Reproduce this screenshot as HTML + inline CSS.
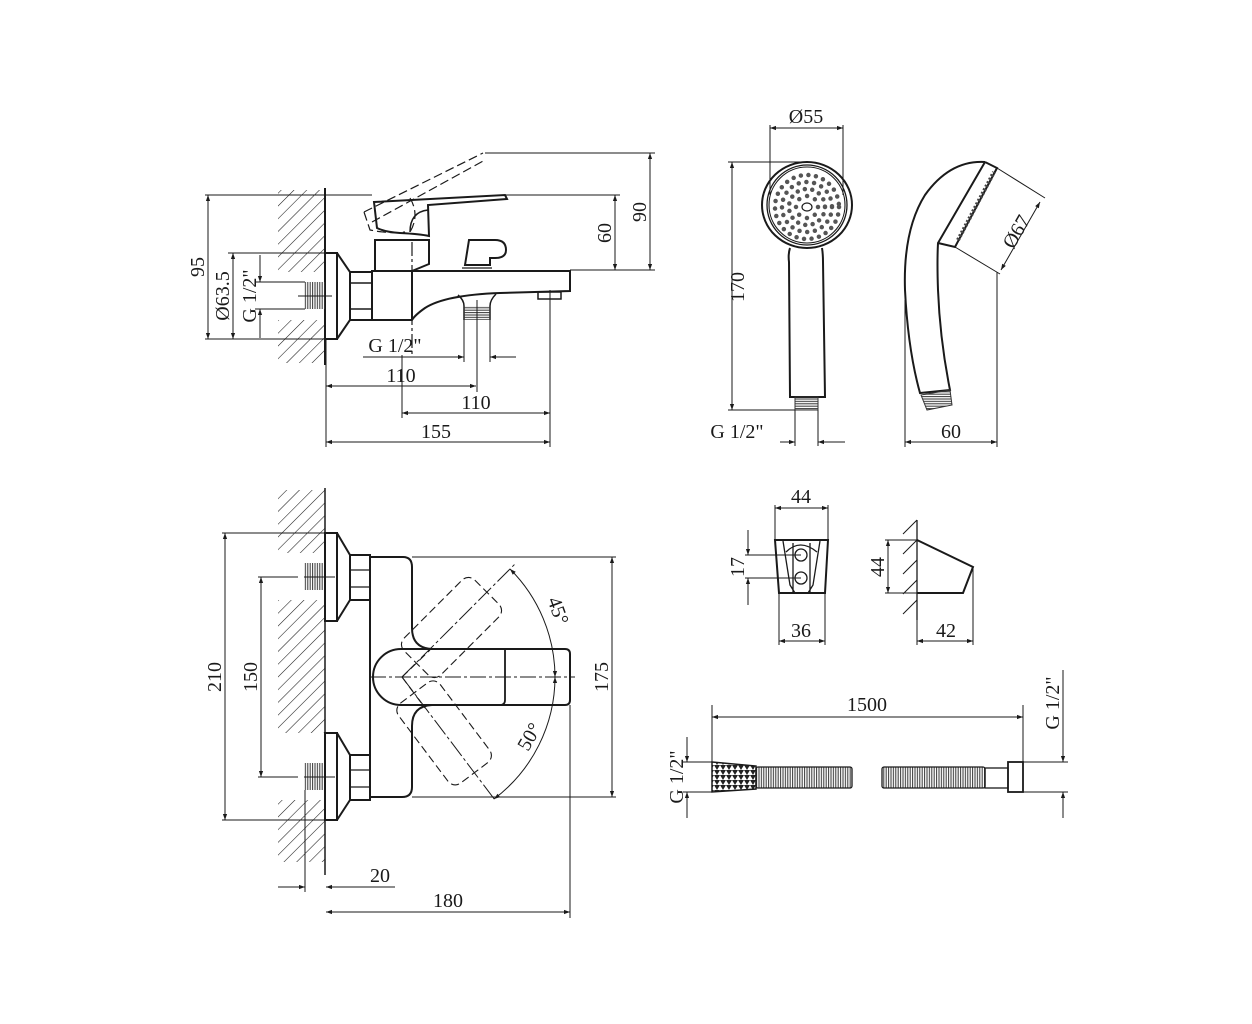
<!DOCTYPE html>
<html><head><meta charset="utf-8"><style>html,body{margin:0;padding:0;background:#fff}svg{display:block}</style></head>
<body>
<svg width="1252" height="1024" viewBox="0 0 1252 1024" xmlns="http://www.w3.org/2000/svg" font-family="Liberation Serif, serif" font-size="20" fill="none" stroke="#1a1a1a">
<defs>
<marker id="a" viewBox="0 0 10 10" refX="10" refY="5" markerWidth="9" markerHeight="6" orient="auto-start-reverse" markerUnits="userSpaceOnUse"><path d="M0,1.5 L10,5 L0,8.5 Z" fill="#1a1a1a" stroke="none"/></marker>
<pattern id="h" width="9" height="9" patternUnits="userSpaceOnUse" patternTransform="rotate(45)"><line x1="0" y1="0" x2="0" y2="9" stroke="#1a1a1a" stroke-width="1.1"/></pattern>
<pattern id="th" width="2.4" height="4" patternUnits="userSpaceOnUse"><line x1="0.6" y1="0" x2="0.6" y2="4" stroke="#333" stroke-width="1"/></pattern>
<pattern id="tv" width="4" height="2.4" patternUnits="userSpaceOnUse"><line x1="0" y1="0.6" x2="4" y2="0.6" stroke="#333" stroke-width="1"/></pattern>
<pattern id="tri" width="6" height="5" patternUnits="userSpaceOnUse"><path d="M0,0 L3,5 L6,0 Z" fill="#222" stroke="none"/></pattern>
</defs>

<!-- ========== TOP LEFT: side view ========== -->
<g stroke-width="1.1">
<rect x="278" y="190" width="47" height="82" fill="url(#h)" stroke="none"/>
<rect x="278" y="320" width="47" height="43" fill="url(#h)" stroke="none"/>
</g>
<g stroke-width="2">
<line x1="325" y1="188" x2="325" y2="365"/>
<rect x="325" y="253" width="12" height="86"/>
<path d="M337,253 L350,272 L350,320 L337,339"/>
<rect x="350" y="272" width="22" height="48"/>
<line x1="350" y1="283" x2="372" y2="283" stroke-width="1.5"/><line x1="350" y1="309" x2="372" y2="309" stroke-width="1.5"/>
<path d="M372,271 L570,271 L570,291 L500,293 Q445,295 425,308 Q415,315 412,320 L372,320 Z"/>
<line x1="412" y1="271" x2="412" y2="320"/>
<rect x="538" y="292" width="23" height="7" stroke-width="1.5"/>
<path d="M375,270 L375,240 L429,240 L429,264 L412,271"/>
<path d="M374,202 L505,195 L507,199 L428,205 L429,236 Q420,234 400,233 Q385,232 377,228 Z"/>
<path d="M428,210 Q410,212 410,232" stroke-width="1.5"/>
<path d="M465,265 L469,240 L495,240 Q506,240 506,250 Q506,258 495,258 L490,258 L490,265 Z"/>
<line x1="462" y1="268" x2="492" y2="268" stroke-width="1.3"/>
<path d="M458,295 Q464,300 464,306 L464,320 M490,320 L490,306 Q490,300 496,294" stroke-width="1.5"/>
</g>
<rect x="304" y="282" width="21" height="27" fill="url(#th)" stroke="none"/>
<rect x="464" y="306" width="26" height="14" fill="url(#tv)" stroke="none"/>
<!-- dashed lever -->
<g stroke-width="1.2" stroke-dasharray="9,4">
<path d="M364,212 L483,153 M372,222 L485,160 M364,212 L370,230 Q390,234 405,232 M410,198 Q420,215 410,232"/>
</g>
<line x1="412" y1="242" x2="412" y2="355" stroke-width="1.2" stroke-dasharray="14,3,3,3"/>
<line x1="477" y1="300" x2="477" y2="392" stroke-width="1"/>
<!-- dims top -->
<g stroke-width="1">
<line x1="205" y1="195" x2="372" y2="195"/><line x1="205" y1="339" x2="325" y2="339"/>
<line x1="208" y1="195" x2="208" y2="339" marker-start="url(#a)" marker-end="url(#a)"/>
<line x1="228" y1="253" x2="325" y2="253"/>
<line x1="233" y1="253" x2="233" y2="339" marker-start="url(#a)" marker-end="url(#a)"/>
<line x1="255" y1="282" x2="305" y2="282"/><line x1="255" y1="309" x2="305" y2="309"/>
<line x1="260" y1="255" x2="260" y2="282" marker-end="url(#a)"/><line x1="260" y1="338" x2="260" y2="309" marker-end="url(#a)"/>
<line x1="298" y1="296" x2="332" y2="296"/>
<line x1="485" y1="153" x2="655" y2="153"/><line x1="505" y1="195" x2="620" y2="195"/><line x1="570" y1="270" x2="655" y2="270"/>
<line x1="615" y1="195" x2="615" y2="270" marker-start="url(#a)" marker-end="url(#a)"/>
<line x1="650" y1="153" x2="650" y2="270" marker-start="url(#a)" marker-end="url(#a)"/>
<line x1="464" y1="320" x2="464" y2="362"/><line x1="490" y1="320" x2="490" y2="362"/>
<line x1="363" y1="357" x2="464" y2="357" marker-end="url(#a)"/><line x1="516" y1="357" x2="490" y2="357" marker-end="url(#a)"/>
<line x1="326" y1="340" x2="326" y2="447"/>
<line x1="402" y1="355" x2="402" y2="418"/><line x1="550" y1="290" x2="550" y2="447"/>
<line x1="326" y1="386" x2="476" y2="386" marker-start="url(#a)" marker-end="url(#a)"/>
<line x1="402" y1="413" x2="550" y2="413" marker-start="url(#a)" marker-end="url(#a)"/>
<line x1="326" y1="442" x2="550" y2="442" marker-start="url(#a)" marker-end="url(#a)"/>
</g>
<g fill="#1a1a1a" stroke="none">
<text transform="translate(204,267) rotate(-90)" text-anchor="middle">95</text>
<text transform="translate(229,296) rotate(-90)" text-anchor="middle">Ø63.5</text>
<text transform="translate(256,296) rotate(-90)" text-anchor="middle">G 1/2"</text>
<text transform="translate(611,233) rotate(-90)" text-anchor="middle">60</text>
<text transform="translate(646,212) rotate(-90)" text-anchor="middle">90</text>
<text x="395" y="352" text-anchor="middle">G 1/2"</text>
<text x="401" y="382" text-anchor="middle">110</text>
<text x="476" y="409" text-anchor="middle">110</text>
<text x="436" y="438" text-anchor="middle">155</text>
</g>

<!-- ========== HAND SHOWER FRONT ========== -->
<g stroke-width="2">
<ellipse cx="807" cy="205" rx="45" ry="43"/>
<circle cx="807" cy="205" r="40" stroke-width="1.3"/>
<circle cx="807" cy="205" r="38" stroke-width="1.1"/>
<path d="M790,248 Q788,254 789,262 L790,397 L825,397 L823,262 Q823,254 822,248"/>
</g>
<rect x="795" y="397" width="23" height="13" fill="url(#tv)" stroke="#333" stroke-width="1"/>
<g stroke="#555" stroke-linecap="round" stroke-width="4.5">
<circle cx="807" cy="207" r="11" stroke-dasharray="0 8.6"/>
<circle cx="807" cy="207" r="18" stroke-dasharray="0 7.5"/>
<circle cx="807" cy="207" r="25" stroke-dasharray="0 7.8"/>
<circle cx="807" cy="207" r="32" stroke-dasharray="0 7.6"/>
</g>
<ellipse cx="807" cy="207" rx="5" ry="4" stroke-width="1.2"/>
<g stroke-width="1">
<line x1="770" y1="125" x2="770" y2="195"/><line x1="843" y1="125" x2="843" y2="195"/>
<line x1="770" y1="128" x2="843" y2="128" marker-start="url(#a)" marker-end="url(#a)"/>
<line x1="728" y1="162" x2="805" y2="162"/><line x1="728" y1="410" x2="795" y2="410"/>
<line x1="732" y1="162" x2="732" y2="410" marker-start="url(#a)" marker-end="url(#a)"/>
<line x1="795" y1="410" x2="795" y2="446"/><line x1="818" y1="410" x2="818" y2="446"/>
<line x1="780" y1="442" x2="795" y2="442" marker-end="url(#a)"/><line x1="845" y1="442" x2="818" y2="442" marker-end="url(#a)"/>
</g>
<g fill="#1a1a1a" stroke="none">
<text x="806" y="123" text-anchor="middle">Ø55</text>
<text transform="translate(744,287) rotate(-90)" text-anchor="middle">170</text>
<text x="737" y="438" text-anchor="middle">G 1/2"</text>
</g>
<!-- side -->
<g stroke-width="2">
<path d="M985,162 Q950,160 925,195 Q903,230 905,290 Q908,350 920,393 L950,390 Q940,340 938,290 Q937,262 938,243 L985,162"/>
<path d="M938,243 L955,247 L997,168 L985,162"/>
</g>
<path d="M958,240 L994,172" stroke="#444" stroke-width="4" stroke-dasharray="2,2"/>
<path d="M921,395 L950,390 L952,405 L927,410 Z" fill="url(#tv)" stroke="#333" stroke-width="1"/>
<g stroke-width="1">
<line x1="997" y1="168" x2="1045" y2="198"/><line x1="955" y1="247" x2="1000" y2="274"/>
<line x1="1040" y1="202" x2="1001" y2="270" marker-start="url(#a)" marker-end="url(#a)"/>
<line x1="905" y1="300" x2="905" y2="447"/><line x1="997" y1="272" x2="997" y2="447"/>
<line x1="905" y1="442" x2="997" y2="442" marker-start="url(#a)" marker-end="url(#a)"/>
</g>
<g fill="#1a1a1a" stroke="none">
<text transform="translate(1022,235) rotate(-60)" text-anchor="middle">Ø67</text>
<text x="951" y="438" text-anchor="middle">60</text>
</g>

<!-- ========== HOLDER ========== -->
<g stroke-width="2">
<path d="M775,540 L828,540 L825,593 L779,593 Z"/>
</g>
<g stroke-width="1.3">
<path d="M783,541 L790,585 L795,593 M820,541 L813,585 L808,593 M793,543 L793,593 M810,543 L810,593"/>
<path d="M786,552 Q800,538 817,552"/>
<circle cx="801" cy="555" r="6"/><circle cx="801" cy="578" r="6"/>
</g>
<g stroke-width="1">
<line x1="775" y1="505" x2="775" y2="540"/><line x1="828" y1="505" x2="828" y2="540"/>
<line x1="775" y1="508" x2="828" y2="508" marker-start="url(#a)" marker-end="url(#a)"/>
<line x1="745" y1="555" x2="801" y2="555"/><line x1="745" y1="578" x2="801" y2="578"/>
<line x1="748" y1="530" x2="748" y2="555" marker-end="url(#a)"/><line x1="748" y1="605" x2="748" y2="578" marker-end="url(#a)"/>
<line x1="779" y1="593" x2="779" y2="645"/><line x1="825" y1="593" x2="825" y2="645"/>
<line x1="779" y1="641" x2="825" y2="641" marker-start="url(#a)" marker-end="url(#a)"/>
<line x1="885" y1="540" x2="917" y2="540"/><line x1="885" y1="593" x2="917" y2="593"/>
<line x1="888" y1="540" x2="888" y2="593" marker-start="url(#a)" marker-end="url(#a)"/>
<line x1="917" y1="593" x2="917" y2="645"/><line x1="973" y1="567" x2="973" y2="645"/>
<line x1="917" y1="641" x2="973" y2="641" marker-start="url(#a)" marker-end="url(#a)"/>
<path d="M917,520 L903,534 M917,540 L903,554 M917,560 L903,574 M917,580 L903,594 M917,600 L903,614"/>
</g>
<line x1="917" y1="520" x2="917" y2="620" stroke-width="1.3"/>
<path d="M917,540 L973,567 L963,593 L917,593" stroke-width="2"/>
<g fill="#1a1a1a" stroke="none">
<text x="801" y="503" text-anchor="middle">44</text>
<text transform="translate(744,567) rotate(-90)" text-anchor="middle">17</text>
<text x="801" y="637" text-anchor="middle">36</text>
<text transform="translate(884,567) rotate(-90)" text-anchor="middle">44</text>
<text x="946" y="637" text-anchor="middle">42</text>
</g>

<!-- ========== HOSE ========== -->
<path d="M712,762 L756,766 L756,789 L712,792 Z" fill="url(#tri)" stroke="#1a1a1a" stroke-width="1.5"/>
<rect x="756" y="767" width="96" height="21" fill="url(#th)" stroke="#1a1a1a" stroke-width="1.3" rx="2"/>
<rect x="882" y="767" width="103" height="21" fill="url(#th)" stroke="#1a1a1a" stroke-width="1.3" rx="2"/>
<rect x="985" y="768" width="23" height="20" stroke-width="1.3"/>
<rect x="1008" y="762" width="15" height="30" stroke-width="1.8"/>
<g stroke-width="1">
<line x1="712" y1="705" x2="712" y2="762"/><line x1="1023" y1="705" x2="1023" y2="762"/>
<line x1="712" y1="717" x2="1023" y2="717" marker-start="url(#a)" marker-end="url(#a)"/>
<line x1="683" y1="762" x2="712" y2="762"/><line x1="683" y1="792" x2="712" y2="792"/>
<line x1="687" y1="737" x2="687" y2="762" marker-end="url(#a)"/><line x1="687" y1="818" x2="687" y2="792" marker-end="url(#a)"/>
<line x1="1023" y1="762" x2="1068" y2="762"/><line x1="1023" y1="792" x2="1068" y2="792"/>
<line x1="1063" y1="670" x2="1063" y2="762" marker-end="url(#a)"/><line x1="1063" y1="818" x2="1063" y2="792" marker-end="url(#a)"/>
</g>
<g fill="#1a1a1a" stroke="none">
<text x="867" y="711" text-anchor="middle">1500</text>
<text transform="translate(683,777) rotate(-90)" text-anchor="middle">G 1/2"</text>
<text transform="translate(1059,703) rotate(-90)" text-anchor="middle">G 1/2"</text>
</g>

<!-- ========== BOTTOM FRONT VIEW ========== -->
<rect x="278" y="490" width="47" height="63" fill="url(#h)" stroke="none"/>
<rect x="278" y="600" width="47" height="133" fill="url(#h)" stroke="none"/>
<rect x="278" y="800" width="47" height="62" fill="url(#h)" stroke="none"/>
<rect x="304" y="563" width="21" height="27" fill="url(#th)" stroke="none"/>
<rect x="304" y="763" width="21" height="27" fill="url(#th)" stroke="none"/>
<g stroke-width="2">
<line x1="325" y1="488" x2="325" y2="875" stroke-width="1.5"/>
<rect x="325" y="533" width="12" height="88"/><path d="M337,533 L350,555 L350,600 L337,621"/>
<rect x="350" y="555" width="20" height="45"/>
<rect x="325" y="733" width="12" height="87"/><path d="M337,733 L350,755 L350,800 L337,820"/>
<rect x="350" y="755" width="20" height="45"/>
<path d="M370,557 L403,557 Q412,557 412,567 L412,628 Q412,648 432,649 L565,649 Q570,649 570,654 L570,700 Q570,705 565,705 L432,705 Q412,706 412,726 L412,787 Q412,797 402,797 L370,797 Z"/>
<path d="M432,649 L401,649 A28,28 0 0 0 401,705 L432,705"/>
<path d="M505,649 L505,700 Q505,705 500,705" stroke-width="1.8"/>
</g>
<g stroke-width="1.3">
<line x1="350" y1="570" x2="370" y2="570"/><line x1="350" y1="587" x2="370" y2="587"/>
<line x1="350" y1="770" x2="370" y2="770"/><line x1="350" y1="787" x2="370" y2="787"/>
</g>
<line x1="370" y1="677" x2="575" y2="677" stroke-width="1" stroke-dasharray="16,3,3,3"/>
<g stroke-width="1.1" stroke-dasharray="8,4">
<rect x="20" y="-26" width="100" height="52" rx="9" transform="translate(402,677) rotate(-45)"/>
<rect x="20" y="-26" width="100" height="52" rx="9" transform="translate(402,677) rotate(53)"/>
<path d="M402,677 L430,650 M402,677 L425,708"/>
</g>
<g stroke-width="1">
<line x1="402" y1="677" x2="515" y2="564" stroke-dasharray="18,3,3,3"/>
<line x1="402" y1="677" x2="495" y2="800" stroke-dasharray="18,3,3,3"/>
<path d="M510,569 A153,153 0 0 1 555,677" marker-start="url(#a)" marker-end="url(#a)"/>
<path d="M555,677 A153,153 0 0 1 494,799" marker-start="url(#a)" marker-end="url(#a)"/>
<line x1="222" y1="533" x2="325" y2="533"/><line x1="222" y1="820" x2="325" y2="820"/>
<line x1="225" y1="533" x2="225" y2="820" marker-start="url(#a)" marker-end="url(#a)"/>
<line x1="258" y1="577" x2="298" y2="577"/><line x1="258" y1="777" x2="298" y2="777"/>
<line x1="304" y1="577" x2="335" y2="577"/><line x1="304" y1="777" x2="335" y2="777"/>
<line x1="261" y1="577" x2="261" y2="777" marker-start="url(#a)" marker-end="url(#a)"/>
<line x1="412" y1="557" x2="616" y2="557"/><line x1="412" y1="797" x2="616" y2="797"/>
<line x1="612" y1="557" x2="612" y2="797" marker-start="url(#a)" marker-end="url(#a)"/>
<line x1="305" y1="790" x2="305" y2="892"/><line x1="570" y1="705" x2="570" y2="918"/>
<line x1="278" y1="887" x2="305" y2="887" marker-end="url(#a)"/><line x1="395" y1="887" x2="326" y2="887" marker-end="url(#a)"/>
<line x1="326" y1="912" x2="570" y2="912" marker-start="url(#a)" marker-end="url(#a)"/>
</g>
<g fill="#1a1a1a" stroke="none">
<text transform="translate(221,677) rotate(-90)" text-anchor="middle">210</text>
<text transform="translate(257,677) rotate(-90)" text-anchor="middle">150</text>
<text transform="translate(608,677) rotate(-90)" text-anchor="middle">175</text>
<text transform="translate(552,613) rotate(70)" text-anchor="middle">45°</text>
<text transform="translate(535,740) rotate(-60)" text-anchor="middle">50°</text>
<text x="380" y="882" text-anchor="middle">20</text>
<text x="448" y="907" text-anchor="middle">180</text>
</g>
</svg>
</body></html>
